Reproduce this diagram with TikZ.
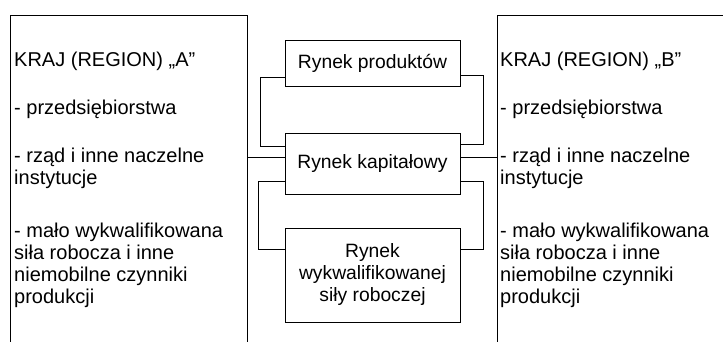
\documentclass[tikz,border=0pt]{standalone}
\usepackage{fontspec}
\setmainfont{Liberation Sans}
\usetikzlibrary{positioning,calc}

\tikzset{
  kraj/.style={draw, line width=0.8pt, inner sep=0pt, anchor=north west, minimum height=340pt},
  rynek/.style={draw, line width=0.8pt, inner sep=0pt, minimum width=175pt, align=center,
    font=\fontsize{19.3}{22}\selectfont},
  opis/.style={anchor=north west, inner sep=0pt, align=left, font=\fontsize{20}{22}\selectfont},
  link/.style={line width=0.8pt}
}

\begin{document}
\begin{tikzpicture}[x=1pt,y=-1pt]
  \clip (0,0) rectangle (723,341);
  % kraje
  \node[kraj, minimum width=237pt] (krajA) at (10,15) {};
  \node[kraj, minimum width=240pt] (krajB) at (497,15) {};
  \node[opis] (txtA) at (14,51.5) {KRAJ (REGION) „A”\\[26pt]- przedsiębiorstwa\\[26pt]- rząd i inne naczelne\\instytucje\\[31pt]- mało wykwalifikowana\\siła robocza i inne\\niemobilne czynniki\\produkcji};
  \node[opis] (txtB) at (500,51.5) {KRAJ (REGION) „B”\\[26pt]- przedsiębiorstwa\\[26pt]- rząd i inne naczelne\\instytucje\\[31pt]- mało wykwalifikowana\\siła robocza i inne\\niemobilne czynniki\\produkcji};
  % rynki
  \node[rynek, minimum height=46pt] (prod) at (372.5,63) {Rynek produktów};
  \node[rynek, minimum height=61pt] (kap) at (372.5,163.5) {Rynek kapitałowy};
  \node[rynek, minimum height=94pt] (wykw) at (372.5,275) {Rynek\\wykwalifikowanej\\siły roboczej};
  % polaczenia
  \draw[link] ([yshift=9pt]prod.south west) -- ++(-24,0) |- ([yshift=-14pt]kap.north west);
  \draw[link] ([yshift=11pt]prod.south east) -- ++(23,0) |- ([yshift=-12pt]kap.north east);
  \draw[link] ([yshift=13pt]kap.south west) -- ++(-26,0) |- ([yshift=-22pt]wykw.north west);
  \draw[link] ([yshift=13pt]kap.south east) -- ++(23,0) |- ([yshift=-22pt]wykw.north east);
  \coordinate (hubL) at ([yshift=6.5pt]kap.west);
  \coordinate (hubR) at ([yshift=6.5pt]kap.east);
  \draw[link] (hubL) -- (hubL -| krajA.east);
  \draw[link] (hubR) -- (hubR -| krajB.west);
\end{tikzpicture}
\end{document}
